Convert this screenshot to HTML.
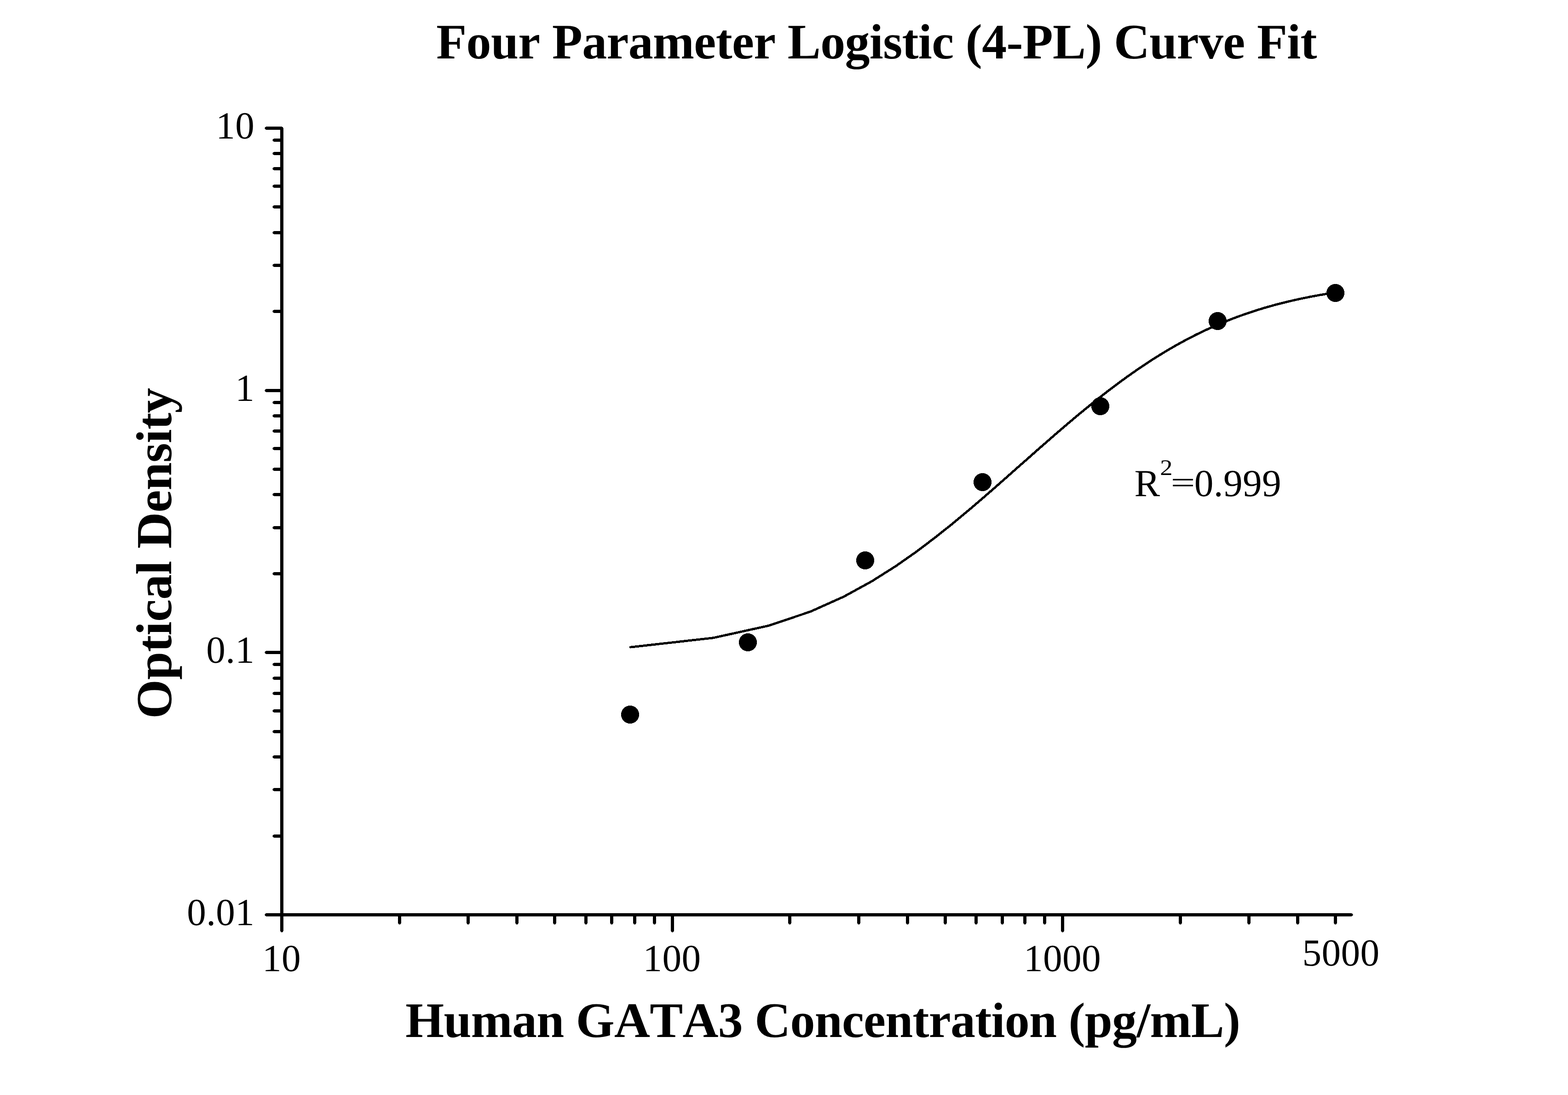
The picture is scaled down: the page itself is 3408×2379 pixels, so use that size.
<!DOCTYPE html>
<html lang="en"><head><meta charset="utf-8"><title>Four Parameter Logistic (4-PL) Curve Fit</title>
<style>html,body{margin:0;padding:0;background:#fff;}body{width:3408px;height:2379px;overflow:hidden;}svg{display:block;}text{text-rendering:geometricPrecision;font-kerning:none;font-variant-ligatures:none;font-family:"Liberation Serif","Times New Roman",Times,serif;fill:#000;}.b{font-weight:bold;}</style></head><body>
<svg width="3408" height="2379" viewBox="0 0 3408 2379">
<rect width="3408" height="2379" fill="#fff"/>
<text class="b" x="948.30" y="126.80" font-size="107.90" letter-spacing="-0.620">Four Parameter Logistic (4-PL) Curve Fit</text>
<text class="b" x="881.30" y="2252.50" font-size="107.90" letter-spacing="-0.705">Human GATA3 Concentration (pg/mL)</text>
<text class="b" transform="translate(371.80 1561.60) rotate(-90)" font-size="109.80" letter-spacing="-0.700">Optical Density</text>
<path shape-rendering="crispEdges" fill="#000" d="M612 275h1v1h-1zM610 276h5v2h-5zM612 2025h1v1h-1zM610 2023h5v2h-5zM609 278h7v1745h-7zM575 1987h1v1h-1zM576 1985h2v5h-2zM2940 1987h1v1h-1zM2938 1985h2v5h-2zM578 1984h2360v7h-2360zM575 278h1v1h-1zM576 276h2v5h-2zM615 278h1v1h-1zM613 276h2v5h-2zM578 275h35v7h-35zM575 848h1v1h-1zM576 846h2v5h-2zM578 845h38v7h-38zM575 1417h1v1h-1zM576 1415h2v5h-2zM578 1414h38v7h-38zM592 676h1v1h-1zM593 674h2v5h-2zM595 673h18v7h-18zM592 576h1v1h-1zM593 574h2v5h-2zM595 573h18v7h-18zM592 505h1v1h-1zM593 503h2v5h-2zM595 502h18v7h-18zM592 449h1v1h-1zM593 447h2v5h-2zM595 446h18v7h-18zM592 404h1v1h-1zM593 402h2v5h-2zM595 401h18v7h-18zM592 366h1v1h-1zM593 364h2v5h-2zM595 363h18v7h-18zM592 333h1v1h-1zM593 331h2v5h-2zM595 330h18v7h-18zM592 304h1v1h-1zM593 302h2v5h-2zM595 301h18v7h-18zM592 1246h1v1h-1zM593 1244h2v5h-2zM595 1243h18v7h-18zM592 1146h1v1h-1zM593 1144h2v5h-2zM595 1143h18v7h-18zM592 1074h1v1h-1zM593 1072h2v5h-2zM595 1071h18v7h-18zM592 1019h1v1h-1zM593 1017h2v5h-2zM595 1016h18v7h-18zM592 974h1v1h-1zM593 972h2v5h-2zM595 971h18v7h-18zM592 936h1v1h-1zM593 934h2v5h-2zM595 933h18v7h-18zM592 903h1v1h-1zM593 901h2v5h-2zM595 900h18v7h-18zM592 874h1v1h-1zM593 872h2v5h-2zM595 871h18v7h-18zM592 1816h1v1h-1zM593 1814h2v5h-2zM595 1813h18v7h-18zM592 1715h1v1h-1zM593 1713h2v5h-2zM595 1712h18v7h-18zM592 1644h1v1h-1zM593 1642h2v5h-2zM595 1641h18v7h-18zM592 1589h1v1h-1zM593 1587h2v5h-2zM595 1586h18v7h-18zM592 1544h1v1h-1zM593 1542h2v5h-2zM595 1541h18v7h-18zM592 1506h1v1h-1zM593 1504h2v5h-2zM595 1503h18v7h-18zM592 1473h1v1h-1zM593 1471h2v5h-2zM595 1470h18v7h-18zM592 1443h1v1h-1zM593 1441h2v5h-2zM595 1440h18v7h-18zM868 2008h1v1h-1zM866 2006h5v2h-5zM865 1987h7v19h-7zM1017 2008h1v1h-1zM1015 2006h5v2h-5zM1014 1987h7v19h-7zM1123 2008h1v1h-1zM1121 2006h5v2h-5zM1120 1987h7v19h-7zM1205 2008h1v1h-1zM1203 2006h5v2h-5zM1202 1987h7v19h-7zM1273 2008h1v1h-1zM1271 2006h5v2h-5zM1270 1987h7v19h-7zM1329 2008h1v1h-1zM1327 2006h5v2h-5zM1326 1987h7v19h-7zM1379 2008h1v1h-1zM1377 2006h5v2h-5zM1376 1987h7v19h-7zM1422 2008h1v1h-1zM1420 2006h5v2h-5zM1419 1987h7v19h-7zM1461 2025h1v1h-1zM1459 2023h5v2h-5zM1458 1987h7v36h-7zM1716 2008h1v1h-1zM1714 2006h5v2h-5zM1713 1987h7v19h-7zM1866 2008h1v1h-1zM1864 2006h5v2h-5zM1863 1987h7v19h-7zM1972 2008h1v1h-1zM1970 2006h5v2h-5zM1969 1987h7v19h-7zM2054 2008h1v1h-1zM2052 2006h5v2h-5zM2051 1987h7v19h-7zM2121 2008h1v1h-1zM2119 2006h5v2h-5zM2118 1987h7v19h-7zM2178 2008h1v1h-1zM2176 2006h5v2h-5zM2175 1987h7v19h-7zM2227 2008h1v1h-1zM2225 2006h5v2h-5zM2224 1987h7v19h-7zM2270 2008h1v1h-1zM2268 2006h5v2h-5zM2267 1987h7v19h-7zM2309 2025h1v1h-1zM2307 2023h5v2h-5zM2306 1987h7v36h-7zM2565 2008h1v1h-1zM2563 2006h5v2h-5zM2562 1987h7v19h-7zM2714 2008h1v1h-1zM2712 2006h5v2h-5zM2711 1987h7v19h-7zM2820 2008h1v1h-1zM2818 2006h5v2h-5zM2817 1987h7v19h-7zM2902 2008h1v1h-1zM2900 2006h5v2h-5zM2899 1987h7v19h-7z"/>
<text x="553.30" y="301.00" font-size="83.33" text-anchor="end" letter-spacing="0.33">10</text>
<text x="553.30" y="870.67" font-size="83.33" text-anchor="end" letter-spacing="0.33">1</text>
<text x="553.30" y="1440.34" font-size="83.33" text-anchor="end" letter-spacing="0.33">0.1</text>
<text x="553.30" y="2010.01" font-size="83.33" text-anchor="end" letter-spacing="0.33">0.01</text>
<text x="611.90" y="2110.00" font-size="83.33" text-anchor="middle" letter-spacing="0.33">10</text>
<text x="1460.40" y="2110.00" font-size="83.33" text-anchor="middle" letter-spacing="0.33">100</text>
<text x="2308.90" y="2110.00" font-size="83.33" text-anchor="middle" letter-spacing="0.33">1000</text>
<text x="2914.60" y="2098.00" font-size="83.33" text-anchor="middle" letter-spacing="0.33">5000</text>
<polyline shape-rendering="crispEdges" points="1370.3,1406.1 1550.4,1385.8 1670.8,1359.3 1761.4,1328.8 1834.1,1296.2 1894.7,1263.0 1946.8,1230.1 1992.5,1198.1 2033.0,1167.4 2069.6,1138.3 2102.9,1110.6 2133.4,1084.6 2161.5,1060.1 2187.7,1037.1 2212.1,1015.4 2235.1,995.2 2256.6,976.1 2277.0,958.3 2296.3,941.5 2314.7,925.7 2332.1,910.9 2348.8,897.0 2364.8,883.9 2380.1,871.6 2394.8,859.9 2408.9,849.0 2422.5,838.7 2435.6,828.9 2448.3,819.7 2460.6,811.0 2472.4,802.8 2483.9,795.0 2495.0,787.6 2505.8,780.6 2516.3,774.0 2526.6,767.7 2536.5,761.7 2546.2,756.0 2555.6,750.6 2564.8,745.5 2573.8,740.6 2582.5,736.0 2591.1,731.6 2599.4,727.3 2607.6,723.3 2615.6,719.5 2623.4,715.8 2631.1,712.3 2638.6,709.0 2646.0,705.8 2653.2,702.7 2660.2,699.8 2667.2,697.0 2674.0,694.3 2680.7,691.7 2687.3,689.2 2693.7,686.8 2700.1,684.6 2706.3,682.4 2712.4,680.3 2718.5,678.2 2724.4,676.3 2730.2,674.4 2736.0,672.6 2741.6,670.9 2747.2,669.2 2752.7,667.6 2758.1,666.1 2763.5,664.6 2768.7,663.1 2773.9,661.7 2779.0,660.4 2784.1,659.1 2789.0,657.8 2793.9,656.6 2798.8,655.4 2803.6,654.3 2808.3,653.2 2812.9,652.1 2817.5,651.1 2822.1,650.1 2826.6,649.1 2831.0,648.2 2835.4,647.3 2839.7,646.4 2844.0,645.6 2848.2,644.7 2852.4,643.9 2856.6,643.2 2860.6,642.4 2864.7,641.7 2868.7,640.9 2872.7,640.3 2876.6,639.6 2880.4,638.9 2884.3,638.3 2888.1,637.7 2891.8,637.1 2895.5,636.5 2899.2,635.9 2902.9,635.4" fill="none" stroke="#000" stroke-width="5.00" stroke-linecap="round" stroke-linejoin="round"/>
<circle shape-rendering="crispEdges" cx="1369.5" cy="1552.5" r="19.50" fill="#000"/>
<circle shape-rendering="crispEdges" cx="1625.5" cy="1395.5" r="19.50" fill="#000"/>
<circle shape-rendering="crispEdges" cx="1880.5" cy="1217.5" r="19.50" fill="#000"/>
<circle shape-rendering="crispEdges" cx="2135.5" cy="1047.5" r="19.50" fill="#000"/>
<circle shape-rendering="crispEdges" cx="2391.5" cy="882.5" r="19.50" fill="#000"/>
<circle shape-rendering="crispEdges" cx="2646.5" cy="697.5" r="19.50" fill="#000"/>
<circle shape-rendering="crispEdges" cx="2902.5" cy="636.5" r="19.50" fill="#000"/>
<g aria-label="R2=0.999">
<text x="2465.50" y="1077.80" font-size="83.33">R</text>
<text transform="translate(2521.30 1032.00) scale(1.130 1.000)" font-size="48.30">2</text>
<text transform="translate(2544.40 1070.20) scale(1.045 0.720)" font-size="90.00">=</text>
<text x="2595.80" y="1077.80" font-size="83.33" letter-spacing="0.330">0.999</text>
</g>
</svg></body></html>
